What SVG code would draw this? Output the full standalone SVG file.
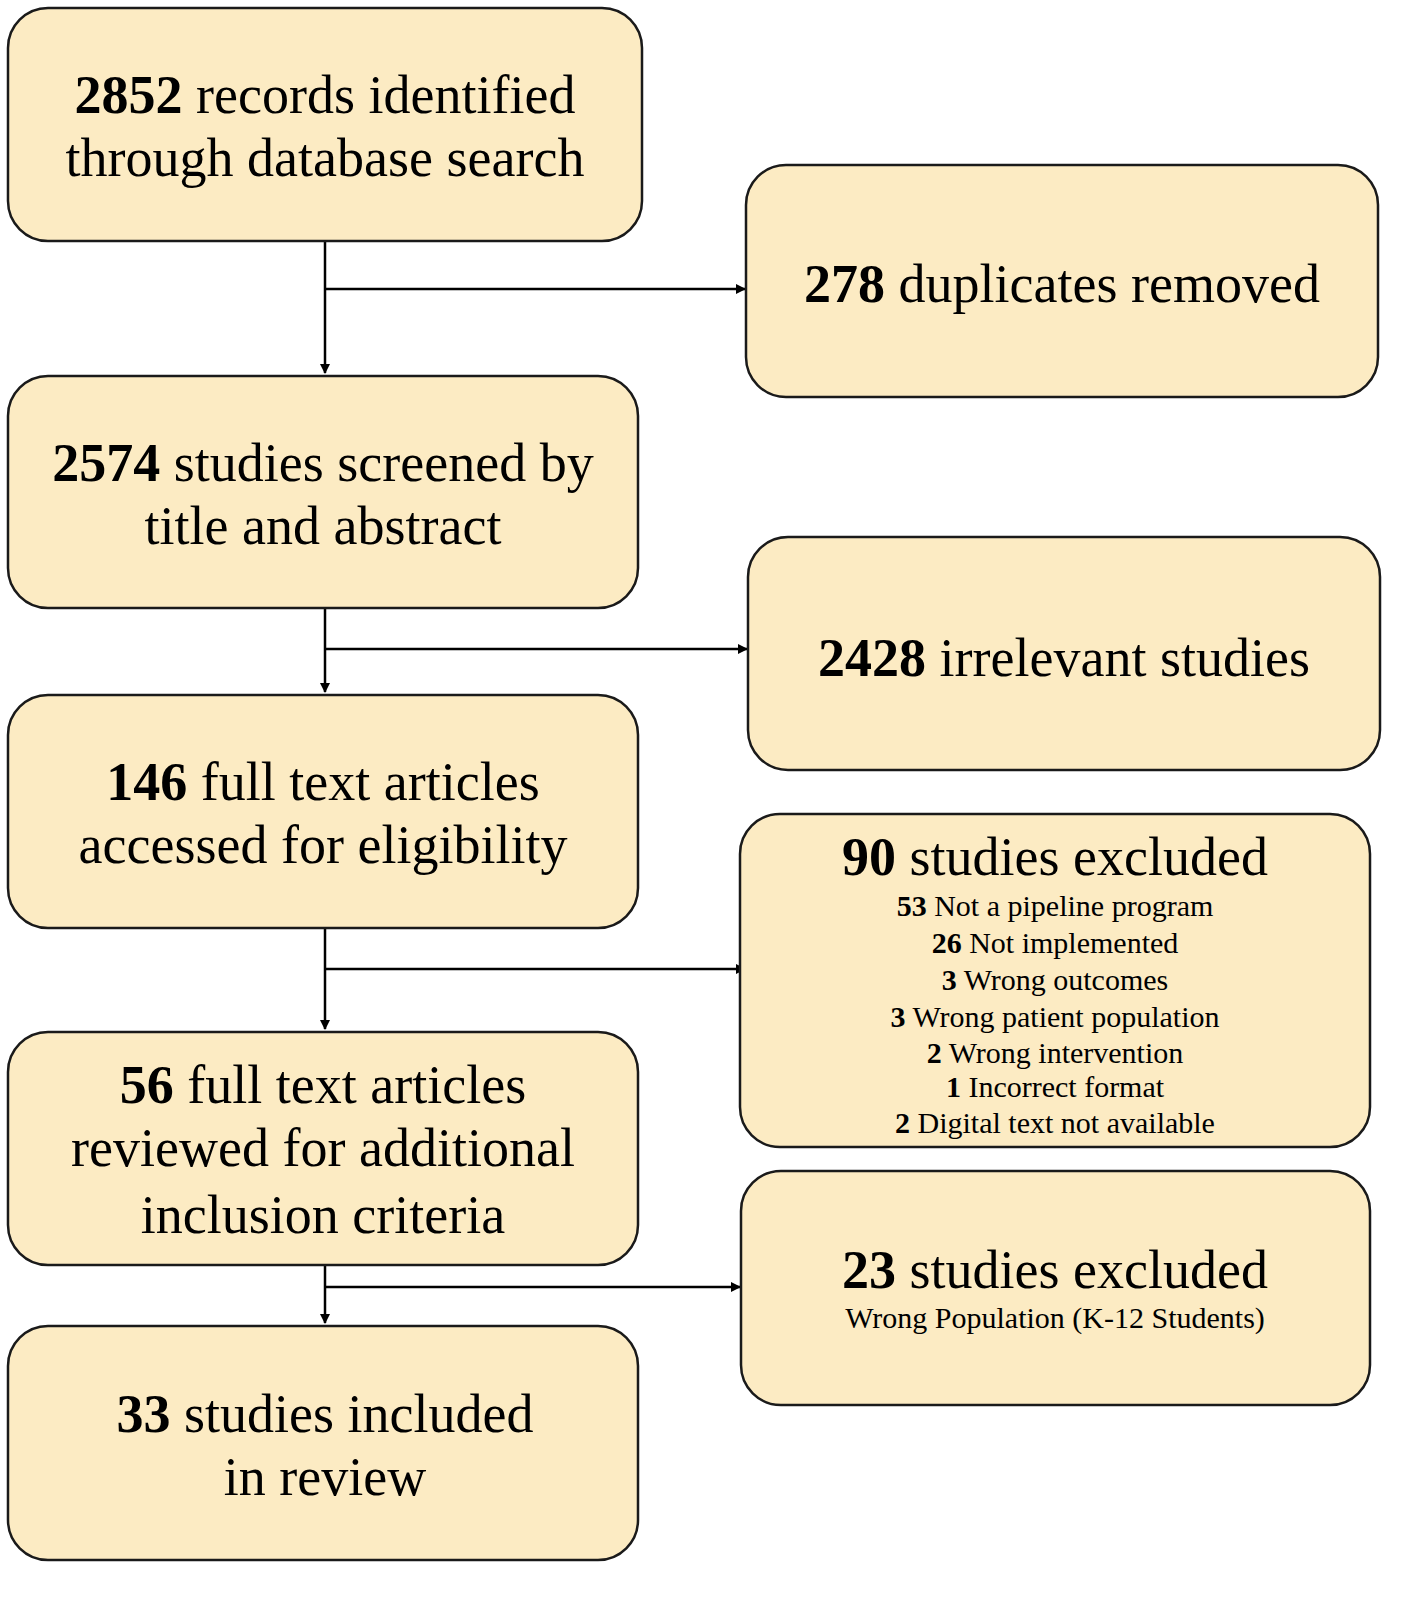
<svg xmlns="http://www.w3.org/2000/svg" width="1418" height="1600" viewBox="0 0 1418 1600">
<style>
.box{fill:#fcebc3;stroke:#1a1a1a;stroke-width:2.5}
text{font-family:"Liberation Serif","Times New Roman",serif;fill:#000;text-anchor:middle}
.m{font-size:54px}
.s{font-size:30px}
.b{font-weight:bold}
.c{stroke:#000;stroke-width:2.5;fill:none}
</style>
<defs><marker id="a" markerWidth="10" markerHeight="10" refX="9" refY="5" orient="auto" markerUnits="userSpaceOnUse"><path d="M0,0L10,5L0,10z" fill="#000"/></marker></defs>
<rect width="1418" height="1600" fill="#fff"/>
<g id="connectors">
<path class="c" d="M325,241V373" marker-end="url(#a)"/>
<path class="c" d="M325,289H745" marker-end="url(#a)"/>
<path class="c" d="M325,608V692" marker-end="url(#a)"/>
<path class="c" d="M325,649H747" marker-end="url(#a)"/>
<path class="c" d="M325,928V1029" marker-end="url(#a)"/>
<path class="c" d="M325,969H745" marker-end="url(#a)"/>
<path class="c" d="M325,1265V1323" marker-end="url(#a)"/>
<path class="c" d="M325,1287H740" marker-end="url(#a)"/>
</g>
<g id="n1"><rect class="box" x="8" y="8" width="634" height="233" rx="40"/>
<text class="m" x="325" y="113"><tspan class="b">2852</tspan> records identified</text>
<text class="m" x="325" y="176">through database search</text></g>
<g id="n2"><rect class="box" x="8" y="376" width="630" height="232" rx="40"/>
<text class="m" x="323" y="481"><tspan class="b">2574</tspan> studies screened by</text>
<text class="m" x="323" y="544">title and abstract</text></g>
<g id="n3"><rect class="box" x="8" y="695" width="630" height="233" rx="40"/>
<text class="m" x="323" y="800"><tspan class="b">146</tspan> full text articles</text>
<text class="m" x="323" y="863">accessed for eligibility</text></g>
<g id="n4"><rect class="box" x="8" y="1032" width="630" height="233" rx="40"/>
<text class="m" x="323" y="1103"><tspan class="b">56</tspan> full text articles</text>
<text class="m" x="323" y="1166">reviewed for additional</text>
<text class="m" x="323" y="1233">inclusion criteria</text></g>
<g id="n5"><rect class="box" x="8" y="1326" width="630" height="234" rx="40"/>
<text class="m" x="325" y="1432"><tspan class="b">33</tspan> studies included</text>
<text class="m" x="325" y="1495">in review</text></g>
<g id="nA"><rect class="box" x="746" y="165" width="632" height="232" rx="40"/>
<text class="m" x="1062" y="302"><tspan class="b">278</tspan> duplicates removed</text></g>
<g id="nB"><rect class="box" x="748" y="537" width="632" height="233" rx="40"/>
<text class="m" x="1064" y="676"><tspan class="b">2428</tspan> irrelevant studies</text></g>
<g id="nC"><rect class="box" x="740" y="814" width="630" height="333" rx="40"/>
<text class="m" x="1055" y="875"><tspan class="b">90</tspan> studies excluded</text>
<text class="s" x="1055" y="916"><tspan class="b">53</tspan> Not a pipeline program</text>
<text class="s" x="1055" y="953"><tspan class="b">26</tspan> Not implemented</text>
<text class="s" x="1055" y="990"><tspan class="b">3</tspan> Wrong outcomes</text>
<text class="s" x="1055" y="1027"><tspan class="b">3</tspan> Wrong patient population</text>
<text class="s" x="1055" y="1063"><tspan class="b">2</tspan> Wrong intervention</text>
<text class="s" x="1055" y="1097"><tspan class="b">1</tspan> Incorrect format</text>
<text class="s" x="1055" y="1133"><tspan class="b">2</tspan> Digital text not available</text></g>
<g id="nD"><rect class="box" x="741" y="1171" width="629" height="234" rx="40"/>
<text class="m" x="1055" y="1288"><tspan class="b">23</tspan> studies excluded</text>
<text class="s" x="1055" y="1328">Wrong Population (K-12 Students)</text></g>
</svg>
